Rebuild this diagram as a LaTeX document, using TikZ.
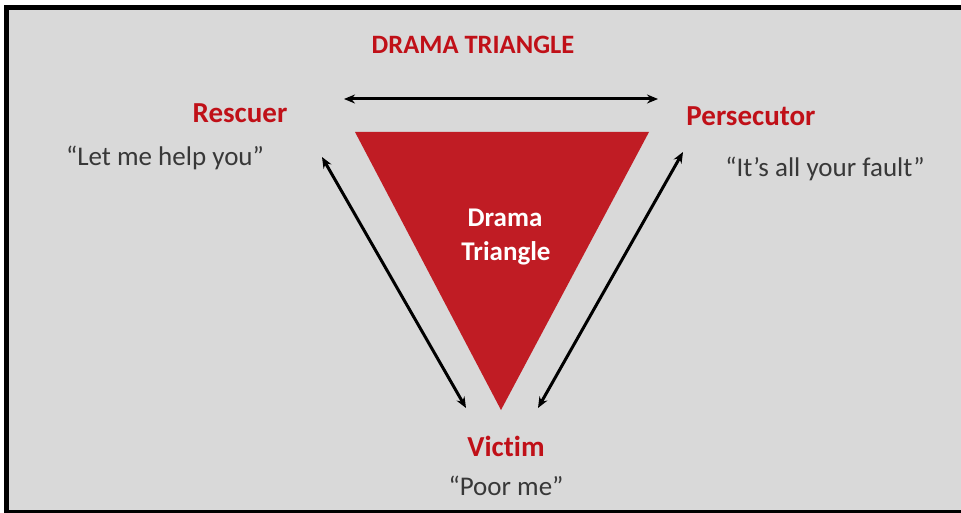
\documentclass[tikz,border=0pt]{standalone}
\usepackage{fontspec}
\setmainfont{Carlito}[Ligatures=NoCommon]
\usetikzlibrary{arrows.meta}
\definecolor{bg}{RGB}{217,217,217}
\definecolor{tri}{RGB}{192,28,36}
\definecolor{lab}{RGB}{192,16,24}
\definecolor{quote}{RGB}{56,56,56}
\tikzset{
  role/.style={text=lab, font=\fontsize{29}{33}\selectfont\bfseries, inner sep=0pt, anchor=base},
  headline/.style={text=lab, font=\fontsize{26.5}{30}\selectfont\bfseries, inner sep=0pt, anchor=base},
  saying/.style={text=quote, font=\fontsize{27}{31}\selectfont, inner sep=0pt, anchor=base},
  inner/.style={text=white, font=\fontsize{27}{31}\selectfont\bfseries, inner sep=0pt, anchor=base},
  dbl/.style={{Stealth[length=11pt,width=9pt]}-{Stealth[length=11pt,width=9pt]}, line width=3pt, black}
}
\begin{document}
\begin{tikzpicture}[x=1pt,y=-1pt]
\useasboundingbox (0,0) rectangle (961,513);
\fill[white] (0,0) rectangle (961,513);
\fill[bg] (9,10) rectangle (962,510);
\fill[black] (4,5) rectangle (9,513);
\fill[black] (4,5) rectangle (962,10);
\fill[black] (4,510) rectangle (962,513);
% triangle
\fill[tri] (355,132) -- (649,132) -- (501,410) -- cycle;
% texts
\node[headline] (title) at (473,54) {DRAMA TRIANGLE};
\node[role] (resc) at (240,123) {Rescuer};
\node[saying] (rescq) at (165,166) {“Let me help you”};
\node[role] (pers) at (751,126) {Persecutor};
\node[saying] (persq) at (825,177) {“It’s all your fault”};
\node[role] (vict) at (506,456) {Victim};
\node[saying] (victq) at (506,495) {“Poor me”};
\node[inner] (d1) at (505,226) {Drama};
\node[inner] (d2) at (506,260) {Triangle};
% arrows
\coordinate (hL) at (344,99);
\coordinate (hR) at (658,99);
\coordinate (lT) at (322,157);
\coordinate (lB) at (466,408);
\coordinate (rT) at (683,152);
\coordinate (rB) at (538,408);
\draw[dbl] (hL) -- (hR);
\draw[dbl] (lT) -- (lB);
\draw[dbl] (rT) -- (rB);
\end{tikzpicture}
\end{document}
